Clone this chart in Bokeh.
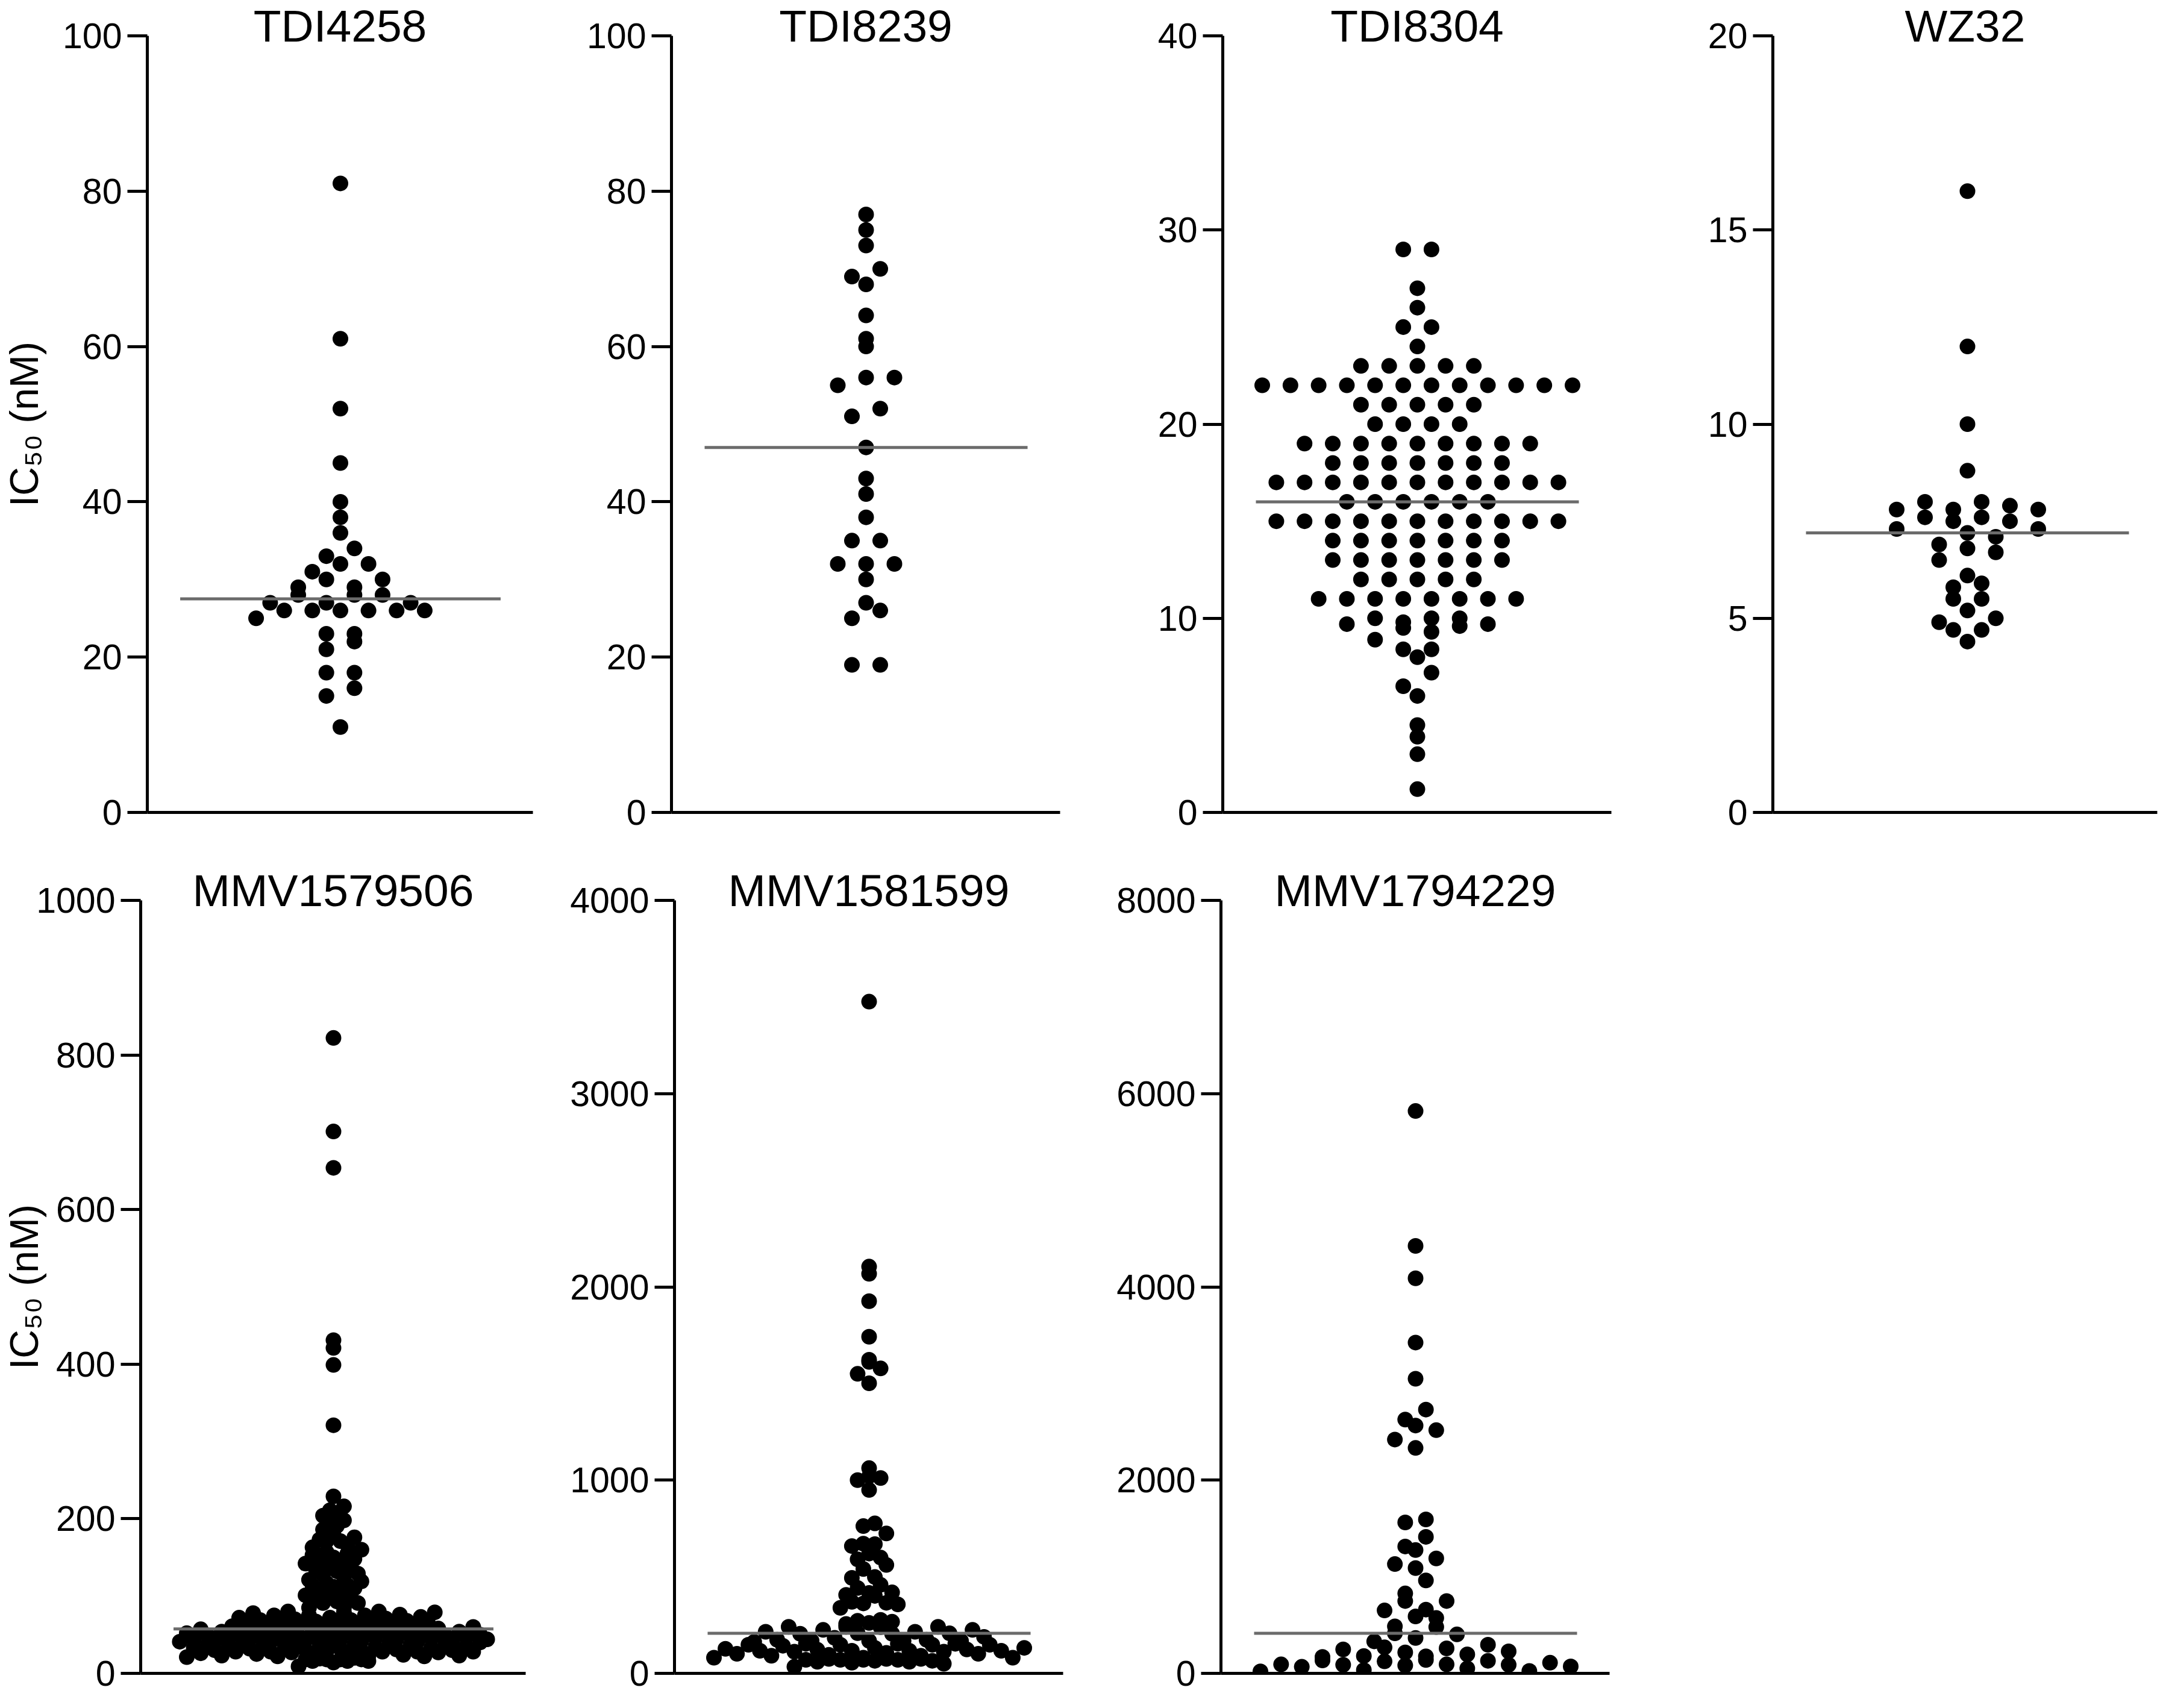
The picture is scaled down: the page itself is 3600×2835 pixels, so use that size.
import numpy as np
from bokeh.plotting import figure
from bokeh.models import Range1d, FixedTicker, ColumnDataSource
from bokeh.layouts import row, column
from bokeh.embed import file_html
from bokeh.resources import INLINE

FONT = "Liberation Sans"

# ---------------- data (IC50, nM) ----------------
names = ["TDI4258", "TDI8239", "TDI8304", "WZ32", "MMV1579506", "MMV1581599", "MMV1794229"]
y_max = [100, 100, 40, 20, 1000, 4000, 8000]
y_step = [20, 20, 10, 5, 200, 1000, 2000]

tdi4258 = [81, 61, 52, 45, 40, 38, 36, 33, 30, 27, 25, 23, 21, 11, 32, 30, 26, 23, 18, 16,
           18, 15, 34, 29, 27, 22, 31, 28, 26, 26, 28, 26, 32, 29, 26, 28, 26, 27]

tdi8239 = [77, 75, 73, 70, 69, 68, 64, 61, 60, 56, 56, 55, 52, 51, 47, 43, 41, 38, 35, 35,
           32, 32, 32, 30, 27, 26, 25, 19, 19]

tdi8304 = [29, 29, 27, 26, 25, 25, 24, 23, 23, 23, 23, 23,
           22, 22, 22, 22, 22, 22, 22, 22, 22, 22, 22, 22,
           21, 21, 21, 21, 21, 20, 20, 20, 20,
           19, 19, 19, 19, 19, 19, 19, 19, 19,
           18, 18, 18, 18, 18, 18, 18,
           17, 17, 17, 17, 17, 17, 17, 17, 17, 17, 17,
           16, 16, 16, 16, 16, 16,
           15, 15, 15, 15, 15, 15, 15, 15, 15, 15, 15,
           14, 14, 14, 14, 14, 14, 14,
           13, 13, 13, 13, 13, 13, 13,
           12, 12, 12, 12, 12,
           11, 11, 11, 11, 11, 11, 11, 11,
           10, 10, 10, 9.8, 9.7, 9.7, 9.6, 9.5, 9.3, 8.9, 8.4, 8.4, 8.0,
           7.2, 6.5, 6.0, 4.5, 3.9, 3.0, 1.2]

wz32 = [16, 12, 10, 8.8, 7.9, 7.5, 7.6, 8.0, 7.6, 7.2, 6.8, 6.1, 5.5, 4.9, 4.4, 7.8, 7.3,
        6.9, 6.5, 5.8, 5.2, 4.7, 7.8, 7.1, 6.7, 5.9, 5.5, 4.7, 8.0, 7.5, 5.0, 7.8, 7.3]

mmv1579506 = [822, 701, 654, 431, 421, 399, 321, 229, 216, 211, 204, 198, 191, 180, 173, 171,
              171, 167, 160, 155, 153, 150, 146, 142, 137, 132, 128, 125, 119, 114, 114, 110, 101,
              207, 195, 186, 176, 163, 157, 148, 144, 139, 134, 129, 121, 117, 112, 108, 105,
              98, 96, 96, 93, 91, 91, 85, 85, 80, 80,
              79, 79, 78, 75, 75, 75, 72, 72, 69, 69, 67, 67, 65, 65, 65, 65, 62, 60, 60, 70,
              67, 64, 63, 61, 59, 59, 76, 73, 71, 68, 66, 62, 60, 58,
              54, 54, 52, 49, 49, 49, 49, 47, 45, 44, 44, 44, 44, 43, 41, 41, 41, 39, 39, 36,
              36, 34, 34, 32, 31, 28, 28, 28, 28, 28, 28, 26, 23, 23, 23, 23, 18, 18, 18, 18,
              16, 16, 16, 9,
              57, 56, 55, 55, 53, 53, 51, 50, 50, 48, 48, 46, 46, 45, 42, 42, 40, 40, 38, 37,
              37, 35, 33, 33, 30, 30, 29, 27, 25, 24, 22, 21, 20,
              56, 52, 50, 47, 44, 42, 39, 37, 35, 32, 30, 27, 25, 22, 19, 14]

mmv1581599 = [3476, 2105, 2068, 1926, 1742, 1623, 1612, 1578, 1550, 1501, 1062, 1020, 1011, 1000, 949,
              776, 762, 724, 671, 669, 659, 620, 599, 590, 561, 540, 499, 494, 458, 442, 419, 416,
              406, 401, 370, 365, 362, 357, 339,
              277, 272, 267, 261, 256, 241, 241, 241, 239, 225, 225, 215, 215, 208, 207, 205, 205, 189,
              184, 174, 174, 168, 168, 168, 168, 163, 153, 153, 153, 148, 148, 148, 148, 143, 132,
              132, 127, 124, 122, 117, 117, 117, 117, 112, 112, 106,
              101, 101, 96, 91, 91, 81, 81, 81, 75, 75, 75, 70, 70, 70, 70, 65, 65, 60, 60, 55, 50, 34]

mmv1794229 = [5820, 4424, 4089, 3424, 3049, 2730, 2627, 2565, 2517, 2420, 2333,
              1593, 1562, 1413, 1313, 1276, 1189, 1131, 1090, 962, 827, 749, 749, 660, 651, 589,
              573, 486, 480, 414, 403, 366, 331, 296,
              269, 259, 248, 228, 217, 196, 180, 176, 170, 139, 134, 130, 124, 110, 93, 93, 89, 89,
              83, 72, 68, 52, 35, 25, 21]

series = [tdi4258, tdi8239, tdi8304, wz32, mmv1579506, mmv1581599, mmv1794229]

# ---------------- layout (pixels) ----------------
DOT = 26.0
CENTER = 323.0
HALF_LINE = 268.0

# (frame_w, frame_h, left, right, top, bottom, ylabel, label_standoff)
geom = [
    (645, 1295, 239, 30, 53, 44, True, 24),
    (645, 1295, 200, 70, 57, 40, False, 0),
    (645, 1295, 200, 68, 58, 39, False, 0),
    (638, 1295, 200, 4, 59, 38, False, 0),
    (645, 1290, 227, 47, 102, 35, True, -20),
    (645, 1290, 200, 62, 95, 42, False, 0),
    (645, 1290, 200, 5, 95, 42, False, 0),
]


def swarm_offsets(values, px_per_unit, d=DOT, smax=47.0, wmax=515.0):
    """Prism-style column scatter: bin values by symbol height, spread each bin sideways
    with one common column spacing chosen so the fullest bin fits the column width."""
    v = np.asarray(values, dtype=float)
    b = d / px_per_unit
    keys = np.floor(v / b + 1e-9).astype(int)
    groups = {}
    for i in np.argsort(v, kind="stable"):
        groups.setdefault(keys[i], []).append(i)
    nmax = max(len(g) for g in groups.values())
    s = smax if nmax < 2 else min(smax, wmax / (nmax - 1))
    x = np.zeros(len(v))
    for g in groups.values():
        n = len(g)
        offs = (np.arange(n) - (n - 1) / 2.0) * s
        # deterministic interleave of the sorted values across the slots
        perm = np.argsort((np.arange(n) * 0.6180339887) % 1.0, kind="stable")
        for rank, idx in enumerate(g):
            x[idx] = offs[perm[rank]]
    return x


def make_panel(k):
    fw, fh, left, right, top, bottom, has_label, lstand = geom[k]
    vals = series[k]
    ymax = y_max[k]
    p = figure(width=left + fw + right, height=top + fh + bottom,
               x_range=Range1d(0, fw), y_range=Range1d(0, ymax),
               output_backend="svg", toolbar_location=None,
               min_border_left=left, min_border_right=right,
               min_border_top=top, min_border_bottom=bottom)
    p.outline_line_color = None
    p.grid.visible = False
    p.background_fill_color = "white"
    p.border_fill_color = "white"

    # title, drawn just above / overlapping the top of the frame
    p.title.text = names[k]
    p.title.align = "center"
    p.title.text_font = FONT
    p.title.text_font_size = "75px"
    p.title.text_font_style = "normal"
    p.title.text_color = "black"
    p.title.standoff = -50

    xo = swarm_offsets(vals, fh / ymax)
    src = ColumnDataSource(dict(x=CENTER + xo, y=np.asarray(vals, dtype=float)))
    p.scatter("x", "y", source=src, size=DOT, fill_color="black", line_color=None)

    med = float(np.median(vals))
    p.segment(x0=[CENTER - HALF_LINE], y0=[med], x1=[CENTER + HALF_LINE], y1=[med],
              line_color="#6b6b6b", line_width=5)

    # y axis
    ya = p.yaxis[0]
    ya.ticker = FixedTicker(ticks=list(range(0, ymax + 1, y_step[k])))
    ya.axis_line_width = 5
    ya.axis_line_color = "black"
    ya.major_tick_out = 33
    ya.major_tick_in = 0
    ya.major_tick_line_width = 5
    ya.major_tick_line_color = "black"
    ya.minor_tick_out = 0
    ya.minor_tick_in = 0
    ya.minor_tick_line_color = None
    ya.major_label_standoff = 9
    ya.major_label_text_font = FONT
    ya.major_label_text_font_size = "59px"
    ya.major_label_text_color = "black"
    if has_label:
        ya.axis_label = "IC\u2085\u2080 (nM)"
        ya.axis_label_text_font = FONT
        ya.axis_label_text_font_size = "66px"
        ya.axis_label_text_font_style = "normal"
        ya.axis_label_text_color = "black"
        ya.axis_label_standoff = lstand

    # x axis: bare line
    xa = p.xaxis[0]
    xa.ticker = FixedTicker(ticks=[])
    xa.axis_line_width = 5
    xa.axis_line_color = "black"
    xa.major_tick_out = 0
    xa.major_tick_in = 0
    xa.minor_tick_out = 0
    xa.minor_tick_in = 0
    xa.major_label_standoff = 0
    xa.major_label_text_font_size = "0px"
    return p


panels = [make_panel(k) for k in range(7)]
layout = column(row(*panels[:4]), row(*panels[4:]))

open("out.html", "w").write(file_html(layout, INLINE, "IC50 dot plots"))
